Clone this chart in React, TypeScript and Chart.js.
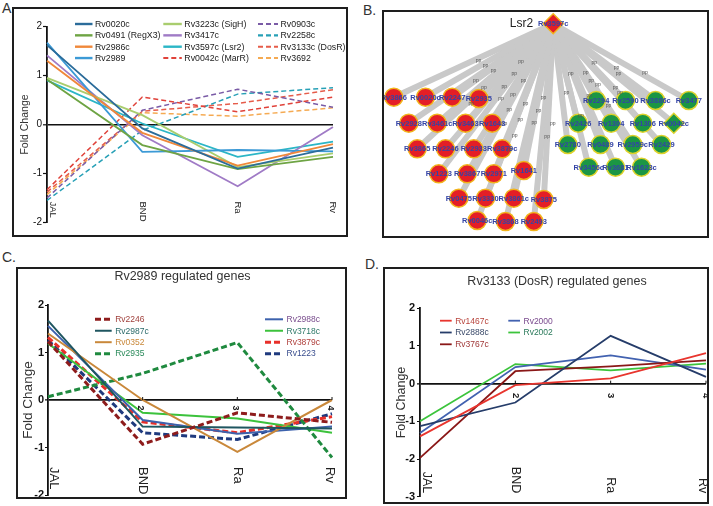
import React, { useEffect, useRef } from "react";
import { Chart, registerables } from "chart.js";
Chart.register(...registerables);

const FONT = "'Liberation Sans', Arial, Helvetica, sans-serif";
Chart.defaults.font.family = FONT;

// ---------------- shared categories ----------------
const stages = ["JAL", "BND", "Ra", "Rv"];
const stageNums = ["", "2", "3", "4"];

// ---------------- Panel A data ----------------
const aNames = [
  "Rv0020c", "Rv0491 (RegX3)", "Rv2986c", "Rv2989",
  "Rv3223c (SigH)", "Rv3417c", "Rv3597c (Lsr2)", "Rv0042c (MarR)",
  "Rv0903c", "Rv2258c", "Rv3133c (DosR)", "Rv3692",
];
const aRv0020c = [1.62, -0.08, -0.9, -0.47];
const aRv0491 = [0.92, -0.42, -0.91, -0.66];
const aRv2986c = [1.3, -0.17, -0.84, -0.4];
const aRv2989 = [1.67, -0.56, -0.52, -0.55];
const aRv3223c = [0.95, 0.19, -0.87, -0.59];
const aRv3417c = [1.41, -0.22, -1.26, -0.05];
const aRv3597c = [0.9, 0.02, -0.66, -0.35];
const aRv0042c = [-1.33, 0.56, 0.26, 0.56];
const aRv0903c = [-1.5, 0.29, 0.72, 0.35];
const aRv2258c = [-1.55, -0.12, 0.62, 0.75];
const aRv3133c = [-1.38, 0.27, 0.43, 0.71];
const aRv3692 = [-1.43, 0.24, 0.17, 0.34];
const aValues = [aRv0020c, aRv0491, aRv2986c, aRv2989, aRv3223c, aRv3417c, aRv3597c, aRv0042c, aRv0903c, aRv2258c, aRv3133c, aRv3692];
const aColors = ["#2b6c9a", "#6ea444", "#f0883a", "#3c9ad6", "#a9cd6e", "#a07bc6", "#2bb6c6", "#e0423a", "#7a5ba6", "#27a0b6", "#e65c4a", "#f5aa52"];
const aDashed = [false, false, false, false, false, false, false, true, true, true, true, true];

// ---------------- Panel B data ----------------
const bRootName = "Rv3597c";
const bRootAlias = "Lsr2";
const bRootX = 169.2;
const bRootY = 11.8;
const bRedNames = ["Rv3866", "Rv0020c", "Rv2247", "Rv2935", "Rv2928", "Rv3461c", "Rv3463", "Rv1643", "Rv3865", "Rv2246", "Rv2933", "Rv3879c", "Rv1223", "Rv3867", "Rv2971", "Rv1641", "Rv0475", "Rv3330", "Rv3861c", "Rv3875", "Rv0046c", "Rv3868", "Rv2493"];
const bRedX = [9.8, 41.5, 68.2, 94.8, 24.8, 53.2, 81.5, 108.2, 33.2, 61.5, 89.8, 118.2, 54.8, 83.2, 109.8, 139.8, 74.8, 101.5, 129.8, 159.8, 93.2, 121.5, 149.8];
const bRedY = [85.2, 85.2, 85.2, 86.5, 111.2, 111.2, 111.2, 111.2, 136.8, 136.8, 136.8, 136.8, 161.8, 161.8, 161.8, 158.5, 186.2, 186.2, 186.2, 187.5, 208.5, 209.5, 209.5];
const bGreenNames = ["Rv2294", "Rv2590", "Rv3886c", "Rv3477", "Rv2426", "Rv1304", "Rv1306", "Rv0042c", "Rv2780", "Rv0489", "Rv2959c", "Rv2429", "Rv3456c", "Rv3681", "Rv1623c"];
const bGreenX = [212.2, 241.5, 271.5, 304.8, 194.2, 227.2, 258.8, 289.8, 183.8, 216.5, 248.8, 277.5, 204.8, 231.5, 257.5];
const bGreenY = [88.5, 88.5, 88.5, 88.5, 111.2, 111.2, 111.2, 111.2, 132.5, 132.5, 132.5, 132.5, 155.2, 155.2, 155.2];
const bDiamondNodes = ["Rv0042c"];
const bEdgeLabel = "pp";

// ---------------- Panel C data ----------------
const cTitle = "Rv2989 regulated genes";
const cNames = ["Rv2246", "Rv2987c", "Rv0352", "Rv2935", "Rv2988c", "Rv3718c", "Rv3879c", "Rv1223"];
const cRv2246 = [1.23, -0.93, -0.27, -0.47];
const cRv2987c = [1.67, -0.56, -0.58, -0.6];
const cRv0352 = [1.4, 0.0, -1.09, 0.0];
const cRv2935 = [0.07, 0.56, 1.21, -1.21];
const cRv2988c = [1.56, -0.42, -0.71, -0.56];
const cRv3718c = [1.19, -0.27, -0.39, -0.69];
const cRv3879c = [1.32, -0.46, -0.69, -0.35];
const cRv1223 = [1.26, -0.69, -0.83, -0.29];
const cValues = [cRv2246, cRv2987c, cRv0352, cRv2935, cRv2988c, cRv3718c, cRv3879c, cRv1223];
const cColors = ["#8e1c1c", "#1f5660", "#c9883a", "#1f8a3f", "#3d62ad", "#3cc23c", "#e8302a", "#1f3a7e"];
const cTextColors = ["#a0403c", "#2a6a6a", "#c9883a", "#2a8a5a", "#7a4e8e", "#2f7a6a", "#b0403c", "#3a4e8e"];
const cDashed = [true, false, false, true, false, false, true, true];

// ---------------- Panel D data ----------------
const dTitle = "Rv3133 (DosR) regulated genes";
const dNames = ["Rv1467c", "Rv2888c", "Rv3767c", "Rv2000", "Rv2002"];
const dRv1467c = [-1.4, -0.04, 0.14, 0.81];
const dRv2888c = [-1.13, -0.5, 1.27, 0.18];
const dRv3767c = [-1.97, 0.33, 0.46, 0.62];
const dRv2000 = [-1.31, 0.44, 0.75, 0.37];
const dRv2002 = [-1.0, 0.52, 0.35, 0.53];
const dValues = [dRv1467c, dRv2888c, dRv3767c, dRv2000, dRv2002];
const dColors = ["#e8352e", "#263d6a", "#8a1818", "#4262b0", "#3cc43c"];
const dTextColors = ["#b8443c", "#3a4a6a", "#a03838", "#7a4a8e", "#2a7a5a"];

const yTitle = "Fold Change";

// ---------------- helpers ----------------
function lineConfig(spec: any) {
  const datasets = spec.names.map((n: string, i: number) => ({
    label: n,
    data: spec.values[i],
    borderColor: spec.colors[i],
    backgroundColor: spec.colors[i],
    borderWidth: spec.dashed[i] ? spec.dashWidth : spec.solidWidth,
    borderDash: spec.dashed[i] ? spec.dash : [],
    pointRadius: 0,
    tension: 0,
    fill: false,
  }));
  const plugin = {
    id: "panelExtras",
    afterDatasetsDraw(chart: any) {
      const ctx = chart.ctx;
      const xs = chart.scales.x;
      const ys = chart.scales.y;
      const area = chart.chartArea;
      ctx.save();
      if (spec.title) {
        ctx.font = spec.title.font;
        ctx.fillStyle = "#333";
        ctx.textAlign = "center";
        ctx.textBaseline = "middle";
        ctx.fillText(spec.title.text, spec.title.x, spec.title.y);
      }
      const L = spec.legend;
      chart.data.datasets.forEach((ds: any, i: number) => {
        const col = Math.floor(i / L.rows);
        const row = i % L.rows;
        const x = L.cols[col];
        const y = L.y0 + row * L.rowH;
        const len = L.lens[col];
        ctx.strokeStyle = ds.borderColor;
        ctx.lineWidth = ds.borderWidth + L.extraW;
        ctx.setLineDash(ds.borderDash || []);
        ctx.beginPath();
        ctx.moveTo(x, y);
        ctx.lineTo(x + len, y);
        ctx.stroke();
        ctx.setLineDash([]);
        ctx.fillStyle = L.textColors ? L.textColors[i] : "#222";
        ctx.font = L.font;
        ctx.textAlign = "left";
        ctx.textBaseline = "middle";
        ctx.fillText(ds.label, x + len + L.gap, y + 0.5);
      });
      const X = spec.xlab;
      const labels = chart.data.labels;
      labels.forEach((lab: string, i: number) => {
        let x = xs.getPixelForValue(i);
        if (i === 0) x += X.firstDx;
        if (i === labels.length - 1) x += X.lastDx;
        ctx.save();
        ctx.translate(x, area.bottom - X.offset);
        ctx.rotate(Math.PI / 2);
        ctx.font = X.font;
        ctx.fillStyle = "#222";
        ctx.textAlign = X.mode === "start" ? "left" : "right";
        ctx.textBaseline = "middle";
        ctx.fillText(lab, 0, 0);
        ctx.restore();
      });
      if (spec.nums) {
        const zy = ys.getPixelForValue(0);
        stageNums.forEach((t, i) => {
          if (!t) return;
          const x = xs.getPixelForValue(i);
          ctx.strokeStyle = "#111";
          ctx.lineWidth = 1;
          ctx.beginPath();
          ctx.moveTo(x, zy);
          ctx.lineTo(x, zy - 3);
          ctx.stroke();
          ctx.save();
          ctx.translate(x + spec.nums.dx, zy + spec.nums.dy);
          ctx.rotate(Math.PI / 2);
          ctx.font = spec.nums.font;
          ctx.fillStyle = "#222";
          ctx.textAlign = "center";
          ctx.textBaseline = "middle";
          ctx.fillText(t, 0, 0);
          ctx.restore();
        });
      }
      ctx.restore();
    },
  };
  return {
    type: "line",
    data: { labels: stages, datasets },
    options: {
      animation: false,
      responsive: false,
      devicePixelRatio: 1,
      layout: { padding: spec.pad, autoPadding: false },
      plugins: { legend: { display: false }, tooltip: { enabled: false }, title: { display: false } },
      scales: {
        x: { type: "category", display: false, offset: false },
        y: {
          min: spec.yMin,
          max: spec.yMax,
          ticks: { stepSize: 1, color: "#111", font: spec.tickFont, padding: spec.tickPad },
          border: { display: true, color: "#111", width: spec.axisW },
          grid: {
            drawOnChartArea: true,
            drawTicks: true,
            tickLength: spec.tickLen,
            tickColor: "#111",
            tickWidth: 1.2,
            color: (c: any) => (c.tick && c.tick.value === 0 ? "#111" : "rgba(0,0,0,0)"),
            lineWidth: (c: any) => (c.tick && c.tick.value === 0 ? spec.zeroW : 1),
          },
          title: {
            display: true,
            text: yTitle,
            color: "#333",
            font: { size: spec.fcSize },
            padding: { top: spec.fcPad, bottom: 0 },
          },
          afterFit: (s: any) => {
            s.width = spec.yWidth;
            s.paddingTop = 0;
            s.paddingBottom = 0;
          },
        },
      },
    },
    plugins: [plugin],
  };
}

function networkConfig() {
  const nodeColorRed = "#e41e26";
  const nodeColorGreen = "#1b9644";
  const edges = [
    ...bRedNames.map((n, i) => ({ x: bRedX[i], y: bRedY[i] })),
    ...bGreenNames.map((n, i) => ({ x: bGreenX[i], y: bGreenY[i] })),
  ];
  const edgeSets = edges.map((p) => ({
    type: "scatter",
    data: [{ x: bRootX, y: bRootY }, p],
    showLine: true,
    borderColor: "#c9c9c9",
    borderWidth: 6,
    pointRadius: 0,
  }));
  const plugin = {
    id: "netLabels",
    afterDatasetsDraw(chart: any) {
      const ctx = chart.ctx;
      ctx.save();
      const xs = chart.scales.x;
      const ys = chart.scales.y;
      const rx = xs.getPixelForValue(bRootX);
      const ry = ys.getPixelForValue(bRootY);
      // edge labels
      ctx.font = "5px " + FONT;
      ctx.fillStyle = "#555";
      ctx.textAlign = "center";
      ctx.textBaseline = "middle";
      edges.forEach((p, i) => {
        const t = 0.5 + (i % 3) * 0.07;
        const px = xs.getPixelForValue(bRootX + (p.x - bRootX) * t);
        const py = ys.getPixelForValue(bRootY + (p.y - bRootY) * t);
        ctx.fillText(bEdgeLabel, px + 5, py);
      });
      // node labels
      ctx.font = "bold 7.5px " + FONT;
      ctx.fillStyle = "#3444a6";
      const drawNames = (dsIndex: number, names: string[]) => {
        const meta = chart.getDatasetMeta(dsIndex);
        meta.data.forEach((el: any, i: number) => {
          ctx.fillText(names[i], el.x, el.y + 0.5);
        });
      };
      drawNames(0, [bRootName]);
      drawNames(1, bRedNames);
      drawNames(2, bGreenNames);
      ctx.font = "12px " + FONT;
      ctx.fillStyle = "#222";
      ctx.textAlign = "right";
      ctx.fillText(bRootAlias, rx - 20, ry);
      ctx.restore();
    },
  };
  return {
    type: "scatter",
    data: {
      datasets: [
        {
          data: [{ x: bRootX, y: bRootY }],
          pointStyle: "rectRot",
          pointRadius: 10,
          backgroundColor: nodeColorRed,
          borderColor: "#f2b41c",
          borderWidth: 1.5,
        },
        {
          data: bRedNames.map((n, i) => ({ x: bRedX[i], y: bRedY[i] })),
          pointStyle: "circle",
          pointRadius: 9,
          backgroundColor: nodeColorRed,
          borderColor: "#f2b41c",
          borderWidth: 1.5,
        },
        {
          data: bGreenNames.map((n, i) => ({ x: bGreenX[i], y: bGreenY[i] })),
          pointStyle: bGreenNames.map((n) => (bDiamondNodes.includes(n) ? "rectRot" : "circle")),
          pointRadius: bGreenNames.map((n) => (bDiamondNodes.includes(n) ? 10 : 9)),
          backgroundColor: nodeColorGreen,
          borderColor: "#ddd22a",
          borderWidth: 1.5,
        },
        ...edgeSets,
      ],
    },
    options: {
      animation: false,
      responsive: false,
      devicePixelRatio: 1,
      layout: { padding: 0, autoPadding: false },
      plugins: { legend: { display: false }, tooltip: { enabled: false } },
      scales: {
        x: { type: "linear", display: false, min: 0, max: 323 },
        y: { type: "linear", display: false, min: 0, max: 224, reverse: true },
      },
    },
    plugins: [plugin],
  };
}

function ChartCanvas({ w, h, make }: { w: number; h: number; make: () => any }) {
  const ref = useRef<HTMLCanvasElement>(null);
  useEffect(() => {
    const chart = new Chart(ref.current as HTMLCanvasElement, make());
    return () => chart.destroy();
  }, []);
  return <canvas ref={ref} width={w} height={h} style={{ display: "block", width: w, height: h }} />;
}

function Box({ x, y, w, h, children }: any) {
  return (
    <div
      style={{
        position: "absolute",
        left: x,
        top: y,
        width: w,
        height: h,
        border: "2px solid #1e1e1e",
        boxSizing: "border-box",
        background: "#fff",
      }}
    >
      {children}
    </div>
  );
}

function PanelLabel({ text, x, y }: any) {
  return (
    <div style={{ position: "absolute", left: x, top: y, fontSize: 14, lineHeight: "14px", color: "#333", fontFamily: FONT }}>
      {text}
    </div>
  );
}

const makeA = () =>
  lineConfig({
    names: aNames,
    values: aValues,
    colors: aColors,
    dashed: aDashed,
    solidWidth: 1.8,
    dashWidth: 1.5,
    dash: [5, 3],
    yMin: -2,
    yMax: 2,
    pad: { left: 0, right: 13, top: 17.5, bottom: 12.5 },
    yWidth: 33,
    tickFont: { size: 10 },
    tickPad: 1,
    tickLen: 4,
    axisW: 1.8,
    zeroW: 1.6,
    fcSize: 10.5,
    fcPad: 4.7,
    legend: { cols: [61, 149.3, 244], lens: [17.5, 18.5, 20], rows: 4, y0: 15, rowH: 11.35, gap: 2.5, extraW: 0.6, font: "8.8px " + FONT },
    xlab: { font: "9.5px " + FONT, mode: "start", offset: 21, firstDx: 6, lastDx: 0 },
  });

const makeC = () =>
  lineConfig({
    names: cNames,
    values: cValues,
    colors: cColors,
    dashed: cDashed,
    solidWidth: 2,
    dashWidth: 3,
    dash: [6, 3],
    yMin: -2,
    yMax: 2,
    pad: { left: 0, right: 13, top: 36, bottom: 2 },
    yWidth: 30,
    tickFont: { size: 11, weight: "bold" },
    tickPad: 1,
    tickLen: 3,
    axisW: 1.8,
    zeroW: 1.8,
    fcSize: 13.5,
    fcPad: 1.9,
    title: { text: cTitle, x: 164.5, y: 7.7, font: "12.5px " + FONT },
    legend: { cols: [77, 247], lens: [16.7, 18], rows: 4, y0: 50.3, rowH: 11.45, gap: 3.5, extraW: 0, font: "8.5px " + FONT, textColors: cTextColors },
    xlab: { font: "13px " + FONT, mode: "start", offset: 28, firstDx: 6, lastDx: -2 },
    nums: { font: "bold 9px " + FONT, dx: -2, dy: 8 },
  });

const makeD = () =>
  lineConfig({
    names: dNames,
    values: dValues,
    colors: dColors,
    dashed: [false, false, false, false, false],
    solidWidth: 1.8,
    dashWidth: 1.8,
    dash: [],
    yMin: -3,
    yMax: 2,
    pad: { left: 0, right: 1, top: 39.3, bottom: 5.3 },
    yWidth: 35,
    tickFont: { size: 11, weight: "bold" },
    tickPad: 2,
    tickLen: 3,
    axisW: 1.8,
    zeroW: 1.8,
    fcSize: 12.5,
    fcPad: 9.2,
    title: { text: dTitle, x: 172, y: 12.7, font: "12.5px " + FONT },
    legend: { cols: [55, 123.3], lens: [11.7, 11.7], rows: 3, y0: 51.7, rowH: 11.8, gap: 3.5, extraW: 0, font: "8.5px " + FONT, textColors: dTextColors },
    xlab: { font: "12.5px " + FONT, mode: "end", offset: 3.5, firstDx: 6, lastDx: -4 },
    nums: { font: "bold 9.5px " + FONT, dx: 0, dy: 12 },
  });

export default function App() {
  return (
    <div style={{ position: "fixed", left: 0, top: 0, width: 713, height: 506, background: "#fff", overflow: "hidden", fontFamily: FONT }}>
      <PanelLabel text="A." x={2} y={1} />
      <PanelLabel text="B." x={363} y={3} />
      <PanelLabel text="C." x={2} y={250} />
      <PanelLabel text="D." x={365} y={257} />
      <Box x={12} y={7} w={336} h={230}>
        <ChartCanvas w={332} h={226} make={makeA} />
      </Box>
      <Box x={382} y={10} w={327} h={228}>
        <ChartCanvas w={323} h={224} make={networkConfig} />
      </Box>
      <Box x={16} y={267} w={331} h={232}>
        <ChartCanvas w={327} h={228} make={makeC} />
      </Box>
      <Box x={383} y={267} w={326} h={237}>
        <ChartCanvas w={322} h={233} make={makeD} />
      </Box>
    </div>
  );
}
